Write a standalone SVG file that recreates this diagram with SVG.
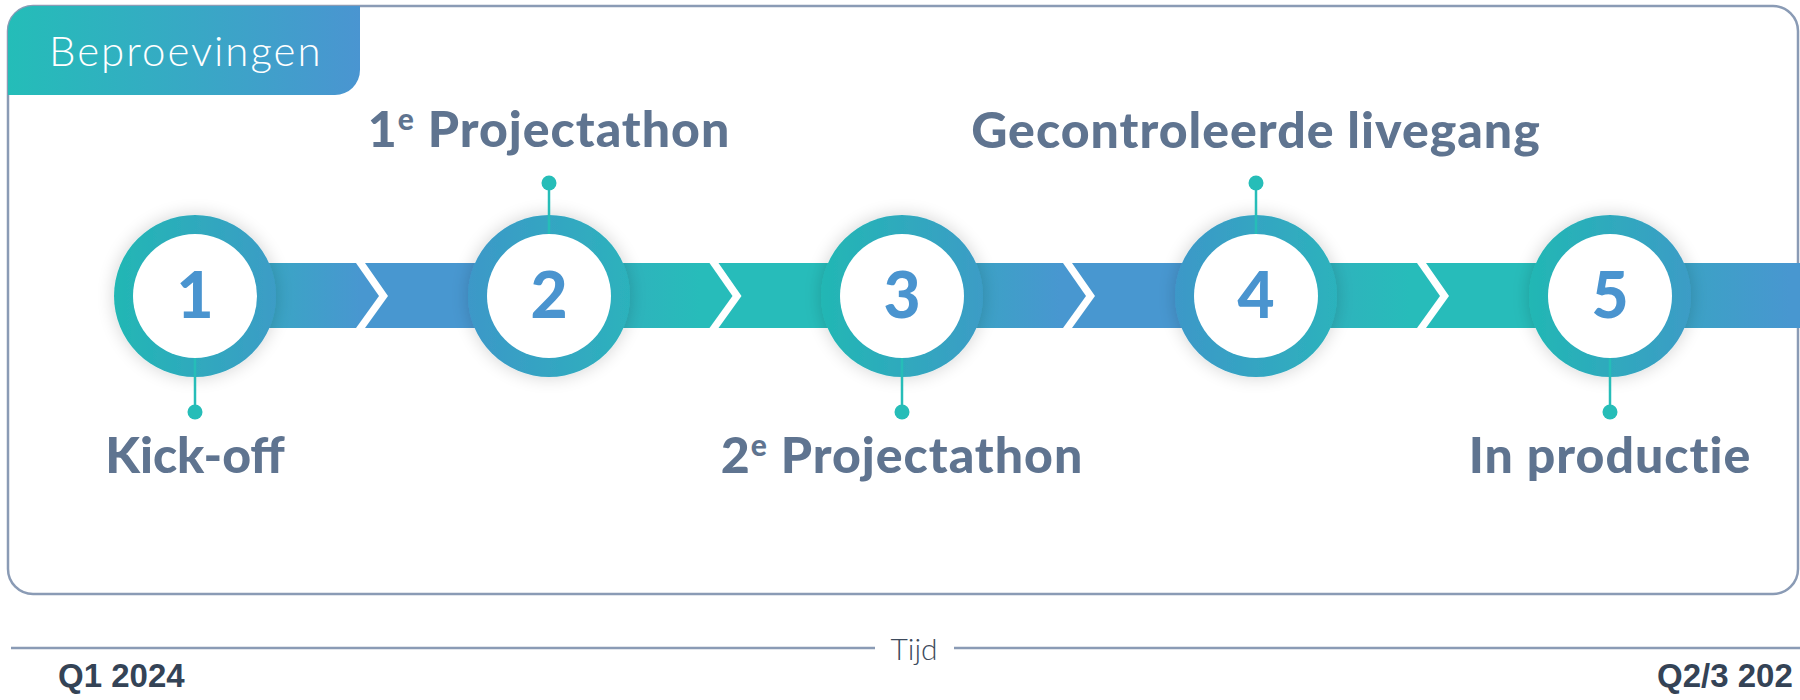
<svg xmlns="http://www.w3.org/2000/svg" width="1800" height="700" viewBox="0 0 1800 700">
<defs>
<style>
.lbl{font-family:Lato,"Open Sans","Liberation Sans",sans-serif;font-weight:900;fill:#5f7490;text-anchor:middle;font-size:50px;letter-spacing:1px}
.tight{letter-spacing:0}
.num{font-family:Lato,"Open Sans","Liberation Sans",sans-serif;font-weight:900;fill:#4a94cf;text-anchor:middle;font-size:64px}
.pin{stroke:#26bdb8;stroke-width:2.5}
.dot{fill:#26bdb8}
.axis{stroke:#8a9bb5;stroke-width:2.5}
.q{font-family:"Liberation Sans",Arial,sans-serif;font-weight:bold;font-size:33px;fill:#344356}
</style>
<linearGradient id="tabG" x1="0" y1="0" x2="1" y2="0"><stop offset="0" stop-color="#24bdb8"/><stop offset="1" stop-color="#4a95d1"/></linearGradient>
<linearGradient id="ringTB" x1="0" y1="0" x2="1" y2="0"><stop offset="0" stop-color="#22b7b4"/><stop offset="1" stop-color="#3c9cc6"/></linearGradient>
<linearGradient id="ringBT" x1="0" y1="0" x2="1" y2="0"><stop offset="0" stop-color="#3c98c8"/><stop offset="1" stop-color="#2cb2bc"/></linearGradient>
<linearGradient id="seg1" gradientUnits="userSpaceOnUse" x1="260" y1="0" x2="360" y2="0"><stop offset="0" stop-color="#38a7c3"/><stop offset="1" stop-color="#4897d0"/></linearGradient>
<linearGradient id="seg2" gradientUnits="userSpaceOnUse" x1="614" y1="0" x2="700" y2="0"><stop offset="0" stop-color="#30b1bd"/><stop offset="1" stop-color="#27bcba"/></linearGradient>
<linearGradient id="seg3" gradientUnits="userSpaceOnUse" x1="967" y1="0" x2="1060" y2="0"><stop offset="0" stop-color="#3aa3c4"/><stop offset="1" stop-color="#4897d0"/></linearGradient>
<linearGradient id="seg4" gradientUnits="userSpaceOnUse" x1="1321" y1="0" x2="1410" y2="0"><stop offset="0" stop-color="#30b1bd"/><stop offset="1" stop-color="#27bcba"/></linearGradient>
<linearGradient id="seg5" gradientUnits="userSpaceOnUse" x1="1675" y1="0" x2="1790" y2="0"><stop offset="0" stop-color="#3aa3c4"/><stop offset="1" stop-color="#4897d0"/></linearGradient>
<filter id="glow" x="-40%" y="-40%" width="180%" height="180%">
<feGaussianBlur in="SourceAlpha" stdDeviation="9"/>
<feComponentTransfer><feFuncA type="linear" slope="0.18"/></feComponentTransfer>
<feMerge><feMergeNode/><feMergeNode in="SourceGraphic"/></feMerge>
</filter>
</defs>
<rect width="1800" height="700" fill="#ffffff"/>

<g id="frame">
<rect x="8" y="6" width="1790" height="588" rx="25" ry="25" fill="#ffffff" stroke="#8a9bb5" stroke-width="2.5"/>
<path d="M8,31 A25,25 0 0 1 33,6 L360,6 L360,70 A25,25 0 0 1 335,95 L8,95 Z" fill="url(#tabG)"/>
<text x="49" y="66" font-family="Lato,'Open Sans','Liberation Sans',sans-serif" font-weight="300" font-size="42" letter-spacing="2" fill="#ffffff">Beproevingen</text>
</g>

<g id="connectors">
<polygon points="195,263 356,263 379,296 356,328 195,328" fill="url(#seg1)"/>
<polygon points="365,263 549,263 549,328 365,328 388,296" fill="#4897d0"/>
<polygon points="549,263 709.5,263 732.5,296 709.5,328 549,328" fill="url(#seg2)"/>
<polygon points="718.5,263 902,263 902,328 718.5,328 741.5,296" fill="#27bcba"/>
<polygon points="902,263 1063,263 1086,296 1063,328 902,328" fill="url(#seg3)"/>
<polygon points="1072,263 1256,263 1256,328 1072,328 1095,296" fill="#4897d0"/>
<polygon points="1256,263 1417,263 1440,296 1417,328 1256,328" fill="url(#seg4)"/>
<polygon points="1426,263 1610,263 1610,328 1426,328 1449,296" fill="#27bcba"/>
<polygon points="1610,263 1800,263 1800,328 1610,328" fill="url(#seg5)"/>
</g>

<g id="step1">
<circle cx="195" cy="296" r="81" fill="url(#ringTB)" filter="url(#glow)"/>
<line class="pin" x1="195" y1="357" x2="195" y2="412"/>
<circle class="dot" cx="195" cy="412" r="7.5"/>
<circle cx="195" cy="296" r="62" fill="#ffffff"/>
<text class="num" x="195" y="318">1</text>
<text class="lbl tight" x="195" y="473">Kick-off</text>
</g>

<g id="step2">
<circle cx="549" cy="296" r="81" fill="url(#ringBT)" filter="url(#glow)"/>
<line class="pin" x1="549" y1="183" x2="549" y2="235"/>
<circle class="dot" cx="549" cy="183" r="7.5"/>
<circle cx="549" cy="296" r="62" fill="#ffffff"/>
<text class="num" x="549" y="318">2</text>
<text class="lbl" x="549" y="147">1<tspan font-size="30" dy="-17">e</tspan><tspan dy="17"> Projectathon</tspan></text>
</g>

<g id="step3">
<circle cx="902" cy="296" r="81" fill="url(#ringTB)" filter="url(#glow)"/>
<line class="pin" x1="902" y1="357" x2="902" y2="412"/>
<circle class="dot" cx="902" cy="412" r="7.5"/>
<circle cx="902" cy="296" r="62" fill="#ffffff"/>
<text class="num" x="902" y="318">3</text>
<text class="lbl" x="902" y="473">2<tspan font-size="30" dy="-17">e</tspan><tspan dy="17"> Projectathon</tspan></text>
</g>

<g id="step4">
<circle cx="1256" cy="296" r="81" fill="url(#ringBT)" filter="url(#glow)"/>
<line class="pin" x1="1256" y1="183" x2="1256" y2="235"/>
<circle class="dot" cx="1256" cy="183" r="7.5"/>
<circle cx="1256" cy="296" r="62" fill="#ffffff"/>
<text class="num" x="1256" y="318">4</text>
<text class="lbl" x="1256" y="148">Gecontroleerde livegang</text>
</g>

<g id="step5">
<circle cx="1610" cy="296" r="81" fill="url(#ringTB)" filter="url(#glow)"/>
<line class="pin" x1="1610" y1="357" x2="1610" y2="412"/>
<circle class="dot" cx="1610" cy="412" r="7.5"/>
<circle cx="1610" cy="296" r="62" fill="#ffffff"/>
<text class="num" x="1610" y="318">5</text>
<text class="lbl" x="1610" y="473">In productie</text>
</g>

<g id="timeaxis">
<line class="axis" x1="11" y1="648" x2="875" y2="648"/>
<line class="axis" x1="954" y1="648" x2="1800" y2="648"/>
<text x="914" y="660" text-anchor="middle" font-family="Lato,'Open Sans','Liberation Sans',sans-serif" font-weight="300" font-size="30" fill="#3d4a5c">Tijd</text>
<text class="q" x="58" y="687">Q1 2024</text>
<text class="q" x="1657" y="687">Q2/3 202</text>
</g>
</svg>
